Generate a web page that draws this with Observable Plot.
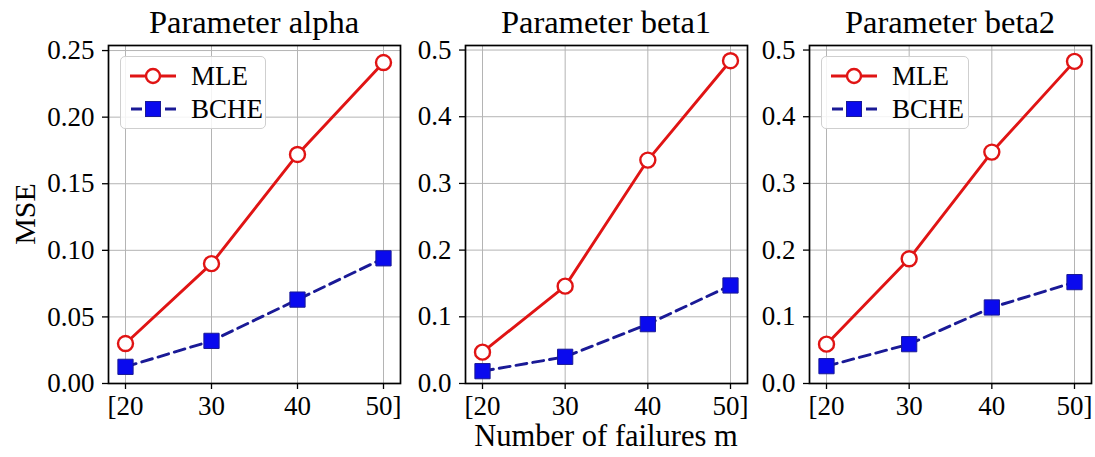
<!DOCTYPE html>
<html>
<head>
<meta charset="utf-8">
<script src="https://cdn.jsdelivr.net/npm/d3@7"></script>
<script src="https://cdn.jsdelivr.net/npm/@observablehq/plot@0.6"></script>
<style>
  html, body { margin: 0; padding: 0; background: white; overflow: hidden; }
  #root { position: relative; width: 1095px; height: 457px; font-family: "Liberation Serif", "Times New Roman", serif; color: #000; }
  .abs { position: absolute; }
  .title { font-size: 32.5px; line-height: 32px; text-align: center; white-space: nowrap; }
  .legend { border: 1px solid #cfcfcf; border-radius: 5px; background: rgba(255,255,255,0.85); box-sizing: border-box; }
  .legend .item { position: absolute; left: 0; height: 30px; display: flex; align-items: center; font-size: 27px; white-space: nowrap; }
</style>
</head>
<body>
<div id="root"></div>
<script>
// ---- data ----
const m = [20, 30, 40, 50];
const xTickLabels = ["[20", "30", "40", "50]"];
const titles = ["Parameter alpha", "Parameter beta1", "Parameter beta2"];
const seriesNames = ["MLE", "BCHE"];
const mleAlpha = [0.030, 0.090, 0.172, 0.241];
const bcheAlpha = [0.0125, 0.032, 0.063, 0.094];
const mleBeta1 = [0.047, 0.146, 0.335, 0.484];
const bcheBeta1 = [0.0185, 0.040, 0.089, 0.147];
const mleBeta2 = [0.059, 0.187, 0.347, 0.483];
const bcheBeta2 = [0.026, 0.059, 0.114, 0.152];
const yTicksAlpha = [0, 0.05, 0.10, 0.15, 0.20, 0.25];
const yTicksBeta = [0, 0.1, 0.2, 0.3, 0.4, 0.5];
const xLabel = "Number of failures m";
const yLabel = "MSE";

// ---- style ----
const RED = "#e01414";
const NAVY = "#1a1a96";
const BLUE = "#0a0aee";
const GRID = "#b4b4b4";

const root = document.getElementById("root");
const FT = 45, FB = 383; // frame top/bottom
const ML = 100, MR = 40, MT = 10, MB = 45;

const panels = [
  {left: 108, right: 400, mle: mleAlpha, bche: bcheAlpha, ticks: yTicksAlpha, fmt: d3.format(".2f"), yMax: 0.2538, legend: true},
  {left: 465, right: 747, mle: mleBeta1, bche: bcheBeta1, ticks: yTicksBeta, fmt: d3.format(".1f"), yMax: 0.5068, legend: false},
  {left: 809, right: 1091, mle: mleBeta2, bche: bcheBeta2, ticks: yTicksBeta, fmt: d3.format(".1f"), yMax: 0.5068, legend: true}
];

panels.forEach((p, i) => {
  const W = p.right - p.left, H = FB - FT;
  const inset = 17;
  const unit = 30 / (W - 2 * inset);
  const xdom = [20 - inset * unit, 50 + inset * unit];
  const rows = m.map((x, k) => ({x, mle: p.mle[k], bche: p.bche[k]}));
  const fmtX = d => xTickLabels[m.indexOf(d)];
  const svg = Plot.plot({
    width: W + ML + MR, height: H + MT + MB,
    marginLeft: ML, marginRight: MR, marginTop: MT, marginBottom: MB,
    style: {fontFamily: "'Liberation Serif', 'Times New Roman', serif", fontSize: "27px", background: "transparent", overflow: "visible", color: "#000"},
    x: {domain: xdom},
    y: {domain: [0, p.yMax]},
    marks: [
      Plot.gridX(m, {stroke: GRID, strokeOpacity: 1, strokeWidth: 1}),
      Plot.gridY(p.ticks, {stroke: GRID, strokeOpacity: 1, strokeWidth: 1}),
      Plot.axisX(m, {tickSize: 6, tickPadding: 6, tickFormat: fmtX, label: null, strokeWidth: 1.3}),
      Plot.axisY(p.ticks, {tickSize: 6, tickPadding: 8, tickFormat: p.fmt, label: null, strokeWidth: 1.3}),
      Plot.line(rows, {x: "x", y: "mle", stroke: RED, strokeWidth: 2.9}),
      Plot.dot(rows, {x: "x", y: "mle", symbol: "circle", r: 7.5, fill: "white", stroke: RED, strokeWidth: 2.4}),
      Plot.line(rows, {x: "x", y: "bche", stroke: NAVY, strokeWidth: 2.9, strokeDasharray: "11,6"}),
      Plot.dot(rows, {x: "x", y: "bche", symbol: "square", r: 8.6, fill: BLUE, stroke: NAVY, strokeWidth: 1}),
      Plot.frame({stroke: "#000", strokeWidth: 1.7})
    ]
  });
  svg.classList.add("abs");
  svg.style.left = (p.left - ML) + "px";
  svg.style.top = (FT - MT) + "px";
  root.appendChild(svg);

  const t = document.createElement("div");
  t.className = "abs title";
  t.textContent = titles[i];
  t.style.left = p.left + "px";
  t.style.width = W + "px";
  t.style.top = "6px";
  root.appendChild(t);

  if (p.legend) {
    const lg = document.createElement("div");
    lg.className = "abs legend";
    lg.style.left = (p.left + 12) + "px";
    lg.style.top = "56px";
    lg.style.width = (i === 0 ? 146 : 148) + "px";
    lg.style.height = "73px";
    const samples = [
      `<svg width="50" height="20" style="margin-left:7px;margin-right:13px"><line x1="2" y1="10" x2="48" y2="10" stroke="${RED}" stroke-width="2.9"/><circle cx="25" cy="10" r="7" fill="white" stroke="${RED}" stroke-width="2.4"/></svg>`,
      `<svg width="50" height="20" style="margin-left:7px;margin-right:13px"><line x1="2" y1="10" x2="48" y2="10" stroke="${NAVY}" stroke-width="2.9" stroke-dasharray="11,6" stroke-dashoffset="-1"/><rect x="17.5" y="2.5" width="15" height="15" fill="${BLUE}" stroke="${NAVY}" stroke-width="1"/></svg>`
    ];
    seriesNames.forEach((name, k) => {
      const it = document.createElement("div");
      it.className = "item";
      it.style.top = (k === 0 ? 4 : 37) + "px";
      it.innerHTML = samples[k] + `<span>${name}</span>`;
      lg.appendChild(it);
    });
    root.appendChild(lg);
  }
});

const xl = document.createElement("div");
xl.className = "abs";
xl.textContent = xLabel;
xl.style.cssText += "left:445px;width:322px;top:421px;text-align:center;font-size:30.5px;line-height:30px;white-space:nowrap;";
root.appendChild(xl);

const yl = document.createElement("div");
yl.className = "abs";
yl.textContent = yLabel;
yl.style.cssText += "left:25px;top:214px;font-size:30px;line-height:30px;white-space:nowrap;transform:translate(-50%,-50%) rotate(-90deg);";
root.appendChild(yl);
</script>
</body>
</html>
